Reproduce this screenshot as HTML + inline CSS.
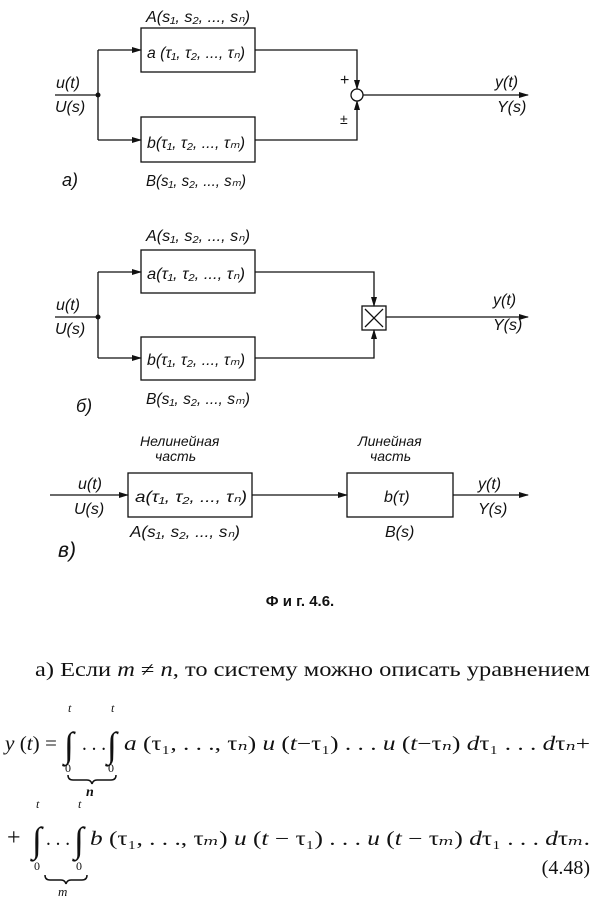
<!DOCTYPE html>
<html><head><meta charset="utf-8"><style>
body{margin:0;background:#fff}
svg{display:block}
text{font-family:"Liberation Serif","DejaVu Serif",serif;fill:#111}
.i{font-style:italic}
.d text{font-family:"Liberation Sans",sans-serif;font-style:italic;font-size:16px}
</style></head><body>
<svg width="600" height="909" viewBox="0 0 600 909" xmlns="http://www.w3.org/2000/svg">
<defs><marker id="ar" markerWidth="10" markerHeight="6" refX="9" refY="3" orient="auto" markerUnits="userSpaceOnUse"><path d="M0,0 L10,3 L0,6 Z" fill="#111"/></marker></defs>
<g stroke="#111" stroke-width="1.3" fill="none">
<rect x="141" y="28" width="114" height="44"/>
<rect x="141" y="117" width="114" height="45"/>
<line x1="55" y1="95" x2="98" y2="95"/>
<polyline points="98,50 98,140"/>
<line x1="98" y1="50" x2="141" y2="50" marker-end="url(#ar)"/>
<line x1="98" y1="140" x2="141" y2="140" marker-end="url(#ar)"/>
<polyline points="255,50 357,50 357,89" marker-end="url(#ar)"/>
<polyline points="255,140 357,140 357,101" marker-end="url(#ar)"/>
<circle cx="357" cy="95" r="6"/>
<line x1="363" y1="95" x2="528" y2="95" marker-end="url(#ar)"/>
<rect x="141" y="250" width="114" height="43"/>
<rect x="141" y="337" width="114" height="43"/>
<line x1="55" y1="317" x2="98" y2="317"/>
<polyline points="98,272 98,358"/>
<line x1="98" y1="272" x2="141" y2="272" marker-end="url(#ar)"/>
<line x1="98" y1="358" x2="141" y2="358" marker-end="url(#ar)"/>
<polyline points="255,272 374,272 374,306" marker-end="url(#ar)"/>
<polyline points="255,358 374,358 374,330" marker-end="url(#ar)"/>
<rect x="362" y="306" width="24" height="24"/>
<line x1="365" y1="309" x2="383" y2="327"/><line x1="383" y1="309" x2="365" y2="327"/>
<line x1="386" y1="317" x2="528" y2="317" marker-end="url(#ar)"/>
<rect x="128" y="473" width="124" height="44"/>
<rect x="347" y="473" width="106" height="44"/>
<line x1="50" y1="495" x2="128" y2="495" marker-end="url(#ar)"/>
<line x1="252" y1="495" x2="347" y2="495" marker-end="url(#ar)"/>
<line x1="453" y1="495" x2="528" y2="495" marker-end="url(#ar)"/>
</g>
<circle cx="98" cy="95" r="2.5" fill="#111"/>
<circle cx="98" cy="317" r="2.5" fill="#111"/>
<g class="d">
<text x="146" y="22" textLength="104" lengthAdjust="spacingAndGlyphs">A(s₁, s₂, ..., sₙ)</text>
<text x="147" y="58" textLength="98" lengthAdjust="spacingAndGlyphs">a (τ₁, τ₂, ..., τₙ)</text>
<text x="147" y="148" textLength="98" lengthAdjust="spacingAndGlyphs">b(τ₁, τ₂, ..., τₘ)</text>
<text x="146" y="186" textLength="100" lengthAdjust="spacingAndGlyphs">B(s₁, s₂, ..., sₘ)</text>
<text x="56" y="88">u(t)</text>
<text x="55" y="112">U(s)</text>
<text x="495" y="87">y(t)</text>
<text x="497" y="112">Y(s)</text>
<text x="340" y="85" style="font-style:normal">+</text>
<text x="340" y="124" style="font-style:normal;font-size:14px">±</text>
<text x="62" y="186" style="font-size:18px">a)</text>
<text x="146" y="241" textLength="104" lengthAdjust="spacingAndGlyphs">A(s₁, s₂, ..., sₙ)</text>
<text x="147" y="279" textLength="98" lengthAdjust="spacingAndGlyphs">a(τ₁, τ₂, ..., τₙ)</text>
<text x="147" y="365" textLength="98" lengthAdjust="spacingAndGlyphs">b(τ₁, τ₂, ..., τₘ)</text>
<text x="146" y="404" textLength="104" lengthAdjust="spacingAndGlyphs">B(s₁, s₂, ..., sₘ)</text>
<text x="56" y="310">u(t)</text>
<text x="55" y="334">U(s)</text>
<text x="493" y="305">y(t)</text>
<text x="493" y="330">Y(s)</text>
<text x="76" y="412" style="font-size:18px">б)</text>
<text x="140" y="446" style="font-size:14px">Нелинейная</text>
<text x="155" y="461" style="font-size:14px">часть</text>
<text x="358" y="446" style="font-size:14px">Линейная</text>
<text x="370" y="461" style="font-size:14px">часть</text>
<text x="135" y="502" textLength="112" lengthAdjust="spacingAndGlyphs">a(τ₁, τ₂, ..., τₙ)</text>
<text x="384" y="502">b(τ)</text>
<text x="78" y="489">u(t)</text>
<text x="74" y="514">U(s)</text>
<text x="130" y="537" textLength="110" lengthAdjust="spacingAndGlyphs">A(s₁, s₂, ..., sₙ)</text>
<text x="385" y="537">B(s)</text>
<text x="478" y="489">y(t)</text>
<text x="478" y="514">Y(s)</text>
<text x="58" y="557" style="font-size:21px">в)</text>
</g>
<text x="300" y="606" text-anchor="middle" font-weight="bold" font-size="15" style="font-family:'Liberation Sans',sans-serif">Ф и г. 4.6.</text>
<text x="35" y="676" font-size="20" textLength="555" lengthAdjust="spacingAndGlyphs">а) Если <tspan class="i">m</tspan> ≠ <tspan class="i">n</tspan>, то систему можно описать уравнением</text>
<g font-size="20">
<text x="5" y="750" textLength="52" lengthAdjust="spacingAndGlyphs"><tspan class="i">y</tspan> (<tspan class="i">t</tspan>) =</text>
<text x="82" y="750" textLength="24" lengthAdjust="spacingAndGlyphs">. . .</text>
<text x="124" y="750" textLength="466" lengthAdjust="spacingAndGlyphs"><tspan class="i">a</tspan> (τ₁, . . ., τ<tspan class="i">ₙ</tspan>) <tspan class="i">u</tspan> (<tspan class="i">t</tspan>−τ₁) . . . <tspan class="i">u</tspan> (<tspan class="i">t</tspan>−τ<tspan class="i">ₙ</tspan>) <tspan class="i">d</tspan>τ₁ . . . <tspan class="i">d</tspan>τ<tspan class="i">ₙ</tspan>+</text>
<text x="7" y="845" font-size="24">+</text>
<text x="46" y="845" textLength="24" lengthAdjust="spacingAndGlyphs">. . .</text>
<text x="90" y="845" textLength="500" lengthAdjust="spacingAndGlyphs"><tspan class="i">b</tspan> (τ₁, . . ., τ<tspan class="i">ₘ</tspan>) <tspan class="i">u</tspan> (<tspan class="i">t</tspan> − τ₁) . . . <tspan class="i">u</tspan> (<tspan class="i">t</tspan> − τ<tspan class="i">ₘ</tspan>) <tspan class="i">d</tspan>τ₁ . . . <tspan class="i">d</tspan>τ<tspan class="i">ₘ</tspan>.</text>
<text x="590" y="874" text-anchor="end">(4.48)</text>
</g>
<g font-size="36" style="font-family:'DejaVu Serif',serif">
<text x="64" y="757">∫</text><text x="107" y="757">∫</text>
<text x="32" y="852">∫</text><text x="74" y="852">∫</text>
</g>
<g font-size="12" class="i">
<text x="68" y="712">t</text><text x="111" y="712">t</text>
<text x="65" y="772" style="font-style:normal">0</text><text x="108" y="772" style="font-style:normal">0</text>
<text x="36" y="808">t</text><text x="78" y="808">t</text>
<text x="34" y="870" style="font-style:normal">0</text><text x="76" y="870" style="font-style:normal">0</text>
<text x="86" y="796" font-weight="bold" font-size="14">n</text>
<text x="58" y="896" font-size="13">m</text>
</g>
<g stroke="#111" stroke-width="1.5" fill="none">
<path d="M68,775 q0,5 5,5 h14 q4,0 5,4 q1,-4 5,-4 h14 q5,0 5,-5"/>
<path d="M45,875 q0,5 5,5 h11 q4,0 5,4 q1,-4 5,-4 h11 q5,0 5,-5"/>
</g>
</svg>
</body></html>
